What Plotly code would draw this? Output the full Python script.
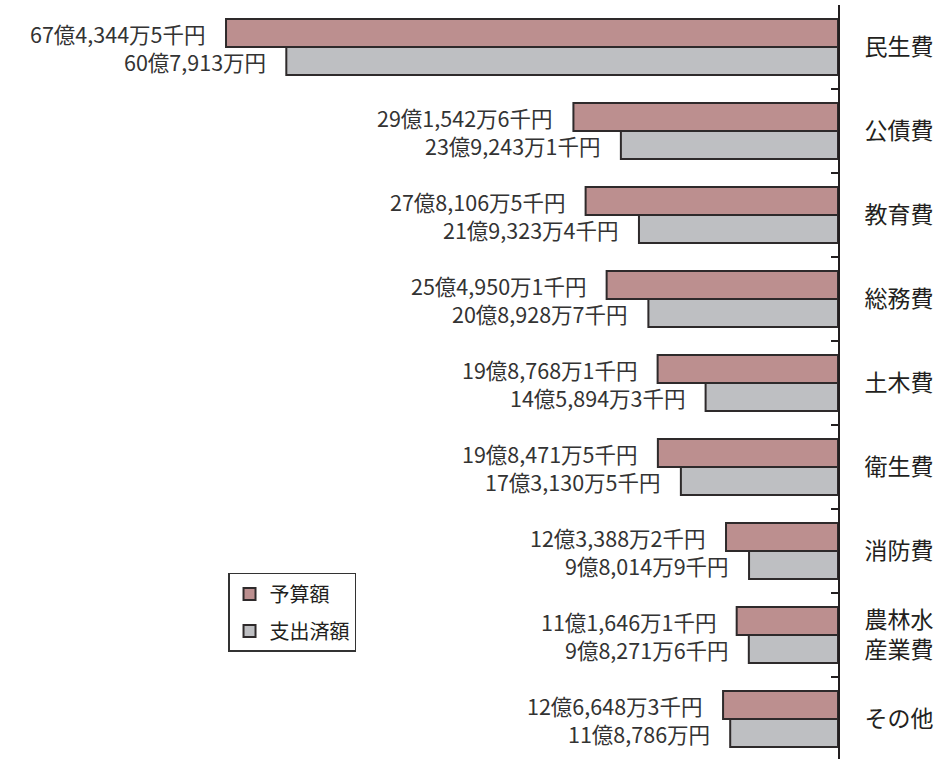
import plotly.graph_objects as go

categories = ["民生費", "公債費", "教育費", "総務費", "土木費", "衛生費", "消防費", "農林水<br>産業費", "その他"]
# values in 千円
budget = [6743445, 2915426, 2781065, 2549501, 1987681, 1984715, 1233882, 1116461, 1266483]
spent = [6079130, 2392431, 2193234, 2089287, 1458943, 1731305, 980149, 982716, 1187860]
budget_labels = ["67億4,344万5千円", "29億1,542万6千円", "27億8,106万5千円", "25億4,950万1千円",
                 "19億8,768万1千円", "19億8,471万5千円", "12億3,388万2千円", "11億1,646万1千円",
                 "12億6,648万3千円"]
spent_labels = ["60億7,913万円", "23億9,243万1千円", "21億9,323万4千円", "20億8,928万7千円",
                "14億5,894万3千円", "17億3,130万5千円", "9億8,014万9千円", "9億8,271万6千円",
                "11億8,786万円"]
series_names = ["予算額", "支出済額"]

FONT = "Noto Sans CJK JP, Noto Sans, sans-serif"
budget_oku = [v / 100000 for v in budget]
spent_oku = [v / 100000 for v in spent]

fig = go.Figure()
fig.add_trace(go.Bar(
    y=categories, x=budget_oku, orientation="h", name=series_names[0],
    marker=dict(color="#bc8f8f", line=dict(color="#2e2a2b", width=2)),
    legendgroup="a", hoverinfo="skip",
))
fig.add_trace(go.Bar(
    y=categories, x=spent_oku, orientation="h", name=series_names[1],
    marker=dict(color="#bebfc2", line=dict(color="#2e2a2b", width=2)),
    legendgroup="b", hoverinfo="skip",
))

annotations = []
for cat, v, lab in zip(categories, budget_oku, budget_labels):
    annotations.append(dict(x=v, y=cat, xref="x", yref="y", text=lab, showarrow=False,
                            xanchor="right", yanchor="middle", xshift=-18, yshift=14,
                            font=dict(family=FONT, size=21.5, color="#333333")))
for cat, v, lab in zip(categories, spent_oku, spent_labels):
    annotations.append(dict(x=v, y=cat, xref="x", yref="y", text=lab, showarrow=False,
                            xanchor="right", yanchor="middle", xshift=-18, yshift=-14,
                            font=dict(family=FONT, size=21.5, color="#333333")))

fig.update_layout(
    width=940, height=759,
    margin=dict(l=0, r=102, t=5, b=0, autoexpand=False),
    paper_bgcolor="white", plot_bgcolor="white",
    barmode="group", bargap=1/3, bargroupgap=0,
    font=dict(family=FONT, color="#231f20"),
    showlegend=True,
    legend=dict(x=0.2721, y=0.2467, xanchor="left", yanchor="top",
                bgcolor="white", bordercolor="#333333", borderwidth=1.5,
                font=dict(family=FONT, size=20, color="#231f20"),
                traceorder="grouped", tracegroupgap=8),
    annotations=annotations,
)
fig.update_xaxes(range=[92.34, 0], showticklabels=False, showgrid=False,
                 zeroline=False, showline=False, ticks="", automargin=False)
fig.update_yaxes(side="right", autorange=False, range=[754 / 84 - 0.5, -0.5],
                 automargin=False,
                 showline=True, linecolor="#231f20", linewidth=2,
                 ticks="inside", tickson="boundaries", ticklen=7, tickwidth=2,
                 tickcolor="#231f20", ticklabelstandoff=20,
                 tickfont=dict(family=FONT, size=23, color="#231f20"),
                 showgrid=False)

fig.write_html("out.html", config={"displayModeBar": False},
               post_script="document.body.style.margin='0';document.body.style.overflow='hidden';")
